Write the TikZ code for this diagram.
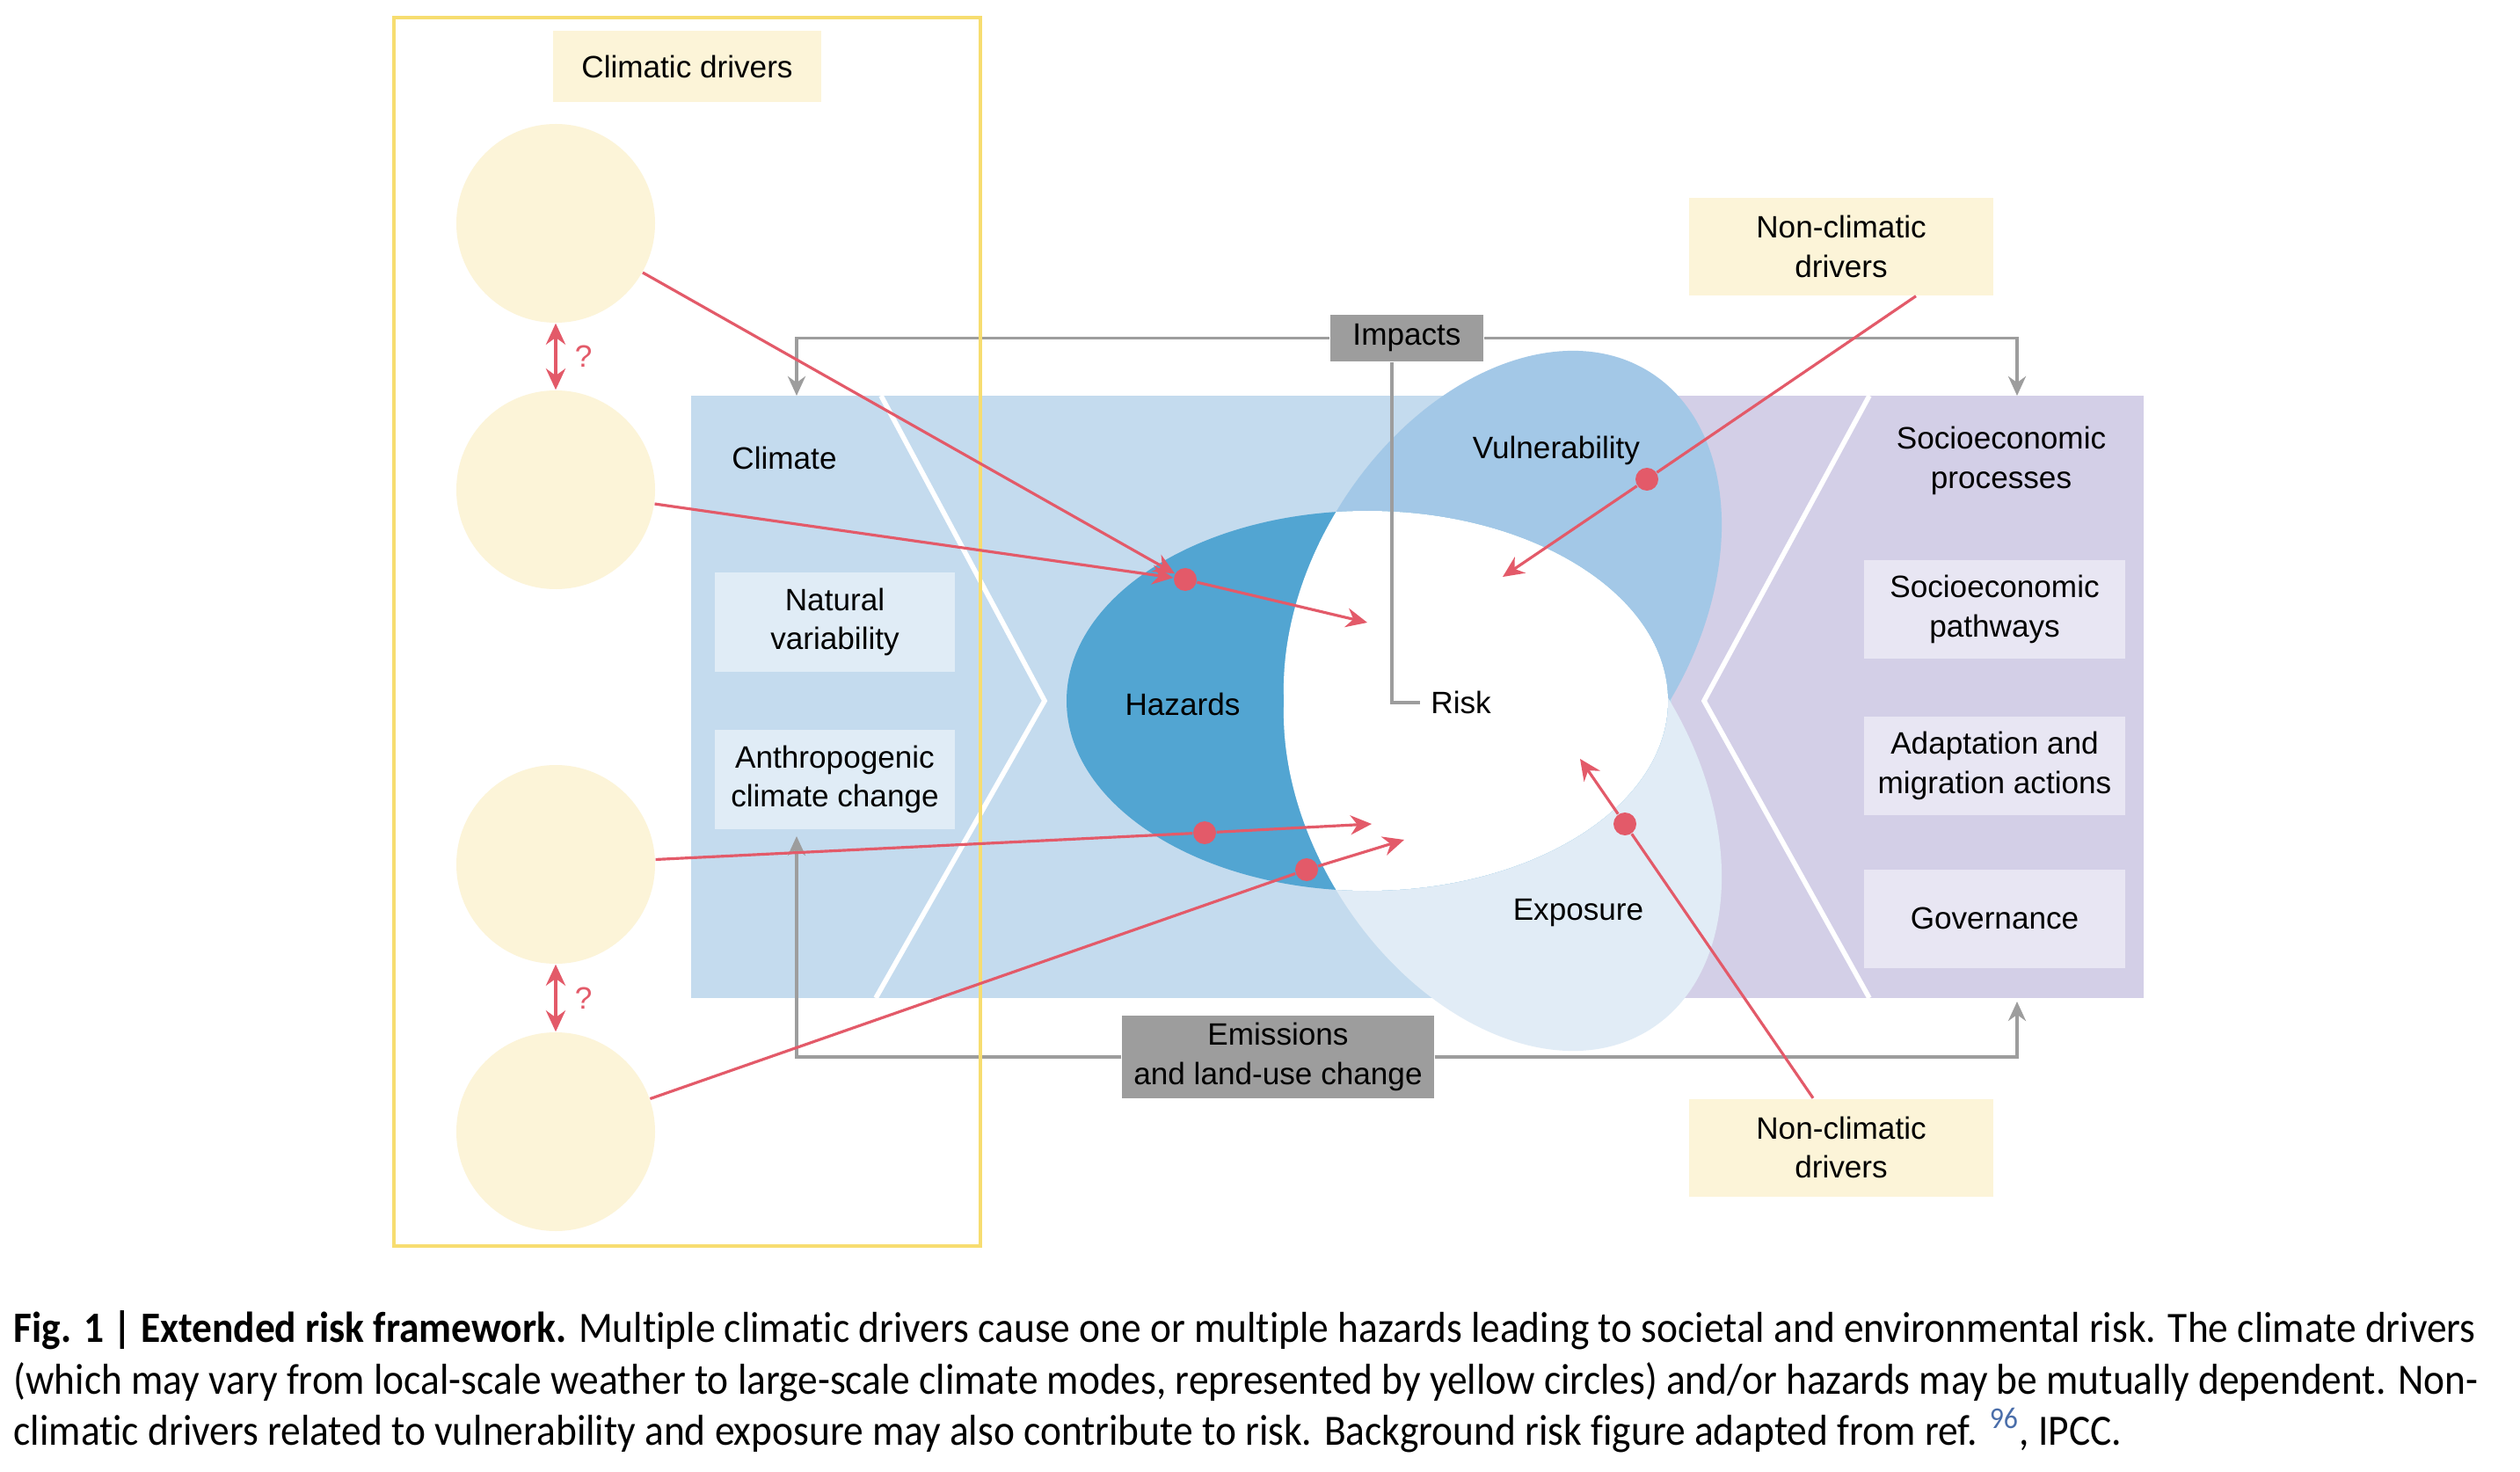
\documentclass[tikz,border=0pt]{standalone}
\usepackage{fontspec}
\setmainfont{Liberation Sans}
\newfontfamily\capfont[FakeStretch=0.923,Ligatures=NoCommon]{Carlito}
\usetikzlibrary{arrows.meta,positioning}
\definecolor{riskred}{RGB}{227,90,105}
\definecolor{drvyellow}{RGB}{252,244,216}
\definecolor{frameyellow}{RGB}{247,221,112}
\definecolor{climblue}{RGB}{196,219,238}
\definecolor{climbox}{RGB}{224,236,246}
\definecolor{vulblue}{RGB}{163,200,231}
\definecolor{hazblue}{RGB}{82,165,210}
\definecolor{expblue}{RGB}{225,236,246}
\definecolor{socpurple}{RGB}{211,207,231}
\definecolor{socbox}{RGB}{232,230,243}
\definecolor{feedgrey}{RGB}{157,157,157}
\definecolor{refblue}{RGB}{74,110,170}

\begin{document}
\begin{tikzpicture}[
  font=\fontsize{10}{12.6}\selectfont,
  driver/.style={circle,fill=drvyellow,minimum size=22.6mm,inner sep=0pt},
  drvbox/.style={fill=drvyellow,align=center,inner sep=0pt},
  climsub/.style={fill=climbox,align=center,inner sep=0pt,minimum width=27.3mm,minimum height=11.3mm},
  socsub/.style={fill=socbox,align=center,inner sep=0pt,minimum width=29.7mm,minimum height=11.2mm},
  greybox/.style={fill=feedgrey,align=center,inner sep=0pt},
  feed/.style={-{Stealth[length=2.2mm,width=2mm]},feedgrey,line width=1.1pt},
  hit/.style={-{Stealth[length=2.4mm,width=2.2mm]},riskred,line width=0.9pt},
  link/.style={riskred,line width=0.9pt},
  pair/.style={{Stealth[length=2.4mm,width=2.2mm]}-{Stealth[length=2.4mm,width=2.2mm]},riskred,line width=1.2pt},
  hazdot/.style={circle,fill=riskred,minimum size=2.6mm,inner sep=0pt},
  chev/.style={white,line width=1.6pt},
  capt/.style={anchor=base west,inner sep=0pt,font=\capfont\fontsize{14}{16.6}\selectfont}
]
  \fill[white] (0,0) rectangle (28.66,16.73);

  \fill[climblue] (7.86,5.38) rectangle (19.01,12.23);
  \fill[socpurple] (19.01,5.38) rectangle (24.38,12.23);
  \draw[chev] (10.02,12.23) -- (11.88,8.76) -- (9.96,5.38);
  \draw[chev] (21.26,12.23) -- (19.38,8.76) -- (21.26,5.38);

  \fill[vulblue,shift={(17.09,9.83)},rotate=58] (0,0) ellipse [x radius=3.15,y radius=2.18];
  \fill[expblue,shift={(17.09,7.69)},rotate=-58] (0,0) ellipse [x radius=3.15,y radius=2.18];
  \fill[hazblue] (15.55,8.76) ellipse [x radius=3.42,y radius=2.16];
  \begin{scope}
    \clip (15.55,8.76) ellipse [x radius=3.42,y radius=2.16];
    \fill[white,shift={(17.09,9.83)},rotate=58] (0,0) ellipse [x radius=3.15,y radius=2.18];
    \fill[white,shift={(17.09,7.69)},rotate=-58] (0,0) ellipse [x radius=3.15,y radius=2.18];
  \end{scope}

  \node (clim) at (8.92,11.52) {Climate};
  \node[climsub] (natvar) at (9.495,9.655) {Natural\\variability};
  \node[climsub] (anthro) at (9.495,7.865) {Anthropogenic\\climate change};
  \node (haz) at (13.45,8.72) {Hazards};
  \node (vul) at (17.70,11.61) {Vulnerability};
  \node (expo) at (17.95,6.35) {Exposure};
  \node[anchor=west] (risk) at (16.15,8.74) {Risk};
  \node[align=center] (socio) at (22.76,11.49) {Socioeconomic\\processes};
  \node[socsub] (path) at (22.685,9.80) {Socioeconomic\\pathways};
  \node[socsub] (adapt) at (22.685,8.02) {Adaptation and\\migration actions};
  \node[socsub] (gov) at (22.685,6.285) {Governance};

  \node[greybox,minimum width=17.4mm,minimum height=5.3mm] (imp) at (16.00,12.885) {Impacts};
  \node[greybox,minimum width=35.5mm,minimum height=9.4mm] (emis) at (14.535,4.71)
    {Emissions\\and land-use change};
  \coordinate (climin) at (9.06,12.23);
  \coordinate (socin) at (22.94,12.23);
  \coordinate (anthin) at (9.06,7.22);
  \coordinate (socout) at (22.94,5.34);
  \draw[feed] (imp.west) -| (climin);
  \draw[feed] (imp.east) -| (socin);
  \draw[feedgrey,line width=1.1pt] ([xshift=-1.7mm]imp.south) |- (risk.west);
  \draw[feed] (emis.west) -| (anthin);
  \draw[feed] (emis.east) -| (socout);

  \draw[frameyellow,line width=0.9pt] (4.48,2.56) rectangle (11.15,16.53);
  \node[drvbox,minimum width=30.5mm,minimum height=8.1mm] (cdrv) at (7.815,15.975) {Climatic drivers};
  \node[driver] (cd1) at (6.32,14.19) {};
  \node[driver] (cd2) at (6.32,11.16) {};
  \node[driver] (cd3) at (6.32,6.90) {};
  \node[driver] (cd4) at (6.32,3.86) {};
  \draw[pair] (cd1) -- node[right=0.8mm,riskred] {?} (cd2);
  \draw[pair] (cd3) -- node[right=0.8mm,riskred] {?} (cd4);

  \node[drvbox,minimum width=34.6mm,minimum height=11.1mm] (nc1) at (20.94,13.925) {Non-climatic\\drivers};
  \node[drvbox,minimum width=34.6mm,minimum height=11.1mm] (nc2) at (20.94,3.68) {Non-climatic\\drivers};

  \node[hazdot] (h1) at (13.48,10.14) {};
  \node[hazdot] (h2) at (13.70,7.26) {};
  \node[hazdot] (h3) at (14.86,6.84) {};
  \node[hazdot] (h4) at (18.73,11.28) {};
  \node[hazdot] (h5) at (18.48,7.36) {};
  \coordinate (t1) at (15.55,9.65);
  \coordinate (t2) at (15.60,7.36);
  \coordinate (t3) at (15.97,7.18);
  \coordinate (t4) at (17.09,10.17);
  \coordinate (t5) at (17.97,8.10);
  \draw[hit] (cd1) -- (h1);
  \draw[hit] (cd2) -- (h1);
  \draw[link] (cd3) -- (h2);
  \draw[link] (cd4) -- (h3);
  \draw[link] ([xshift=8.5mm]nc1.south) -- (h4);
  \draw[link] ([xshift=-3.2mm]nc2.north) -- (h5);
  \draw[hit] (h1) -- (t1);
  \draw[hit] (h2) -- (t2);
  \draw[hit] (h3) -- (t3);
  \draw[hit] (h4) -- (t4);
  \draw[hit] (h5) -- (t5);

  \node[capt] (cap1) at (0.15,1.47) {\bfseries Fig. 1 | Extended risk framework.
    \mdseries Multiple climatic drivers cause one or multiple hazards leading to societal and environmental risk. The climate drivers};
  \node[capt] (cap2) at (0.15,0.88) {(which may vary from local-scale weather to large-scale climate modes,
    represented by yellow circles) and/or hazards may be mutually dependent. Non-};
  \node[capt] (cap3) at (0.15,0.30) {climatic drivers related to vulnerability and exposure may also
    contribute to risk. Background risk figure adapted from ref. \textsuperscript{\color{refblue}96}, IPCC.};
\end{tikzpicture}
\end{document}
